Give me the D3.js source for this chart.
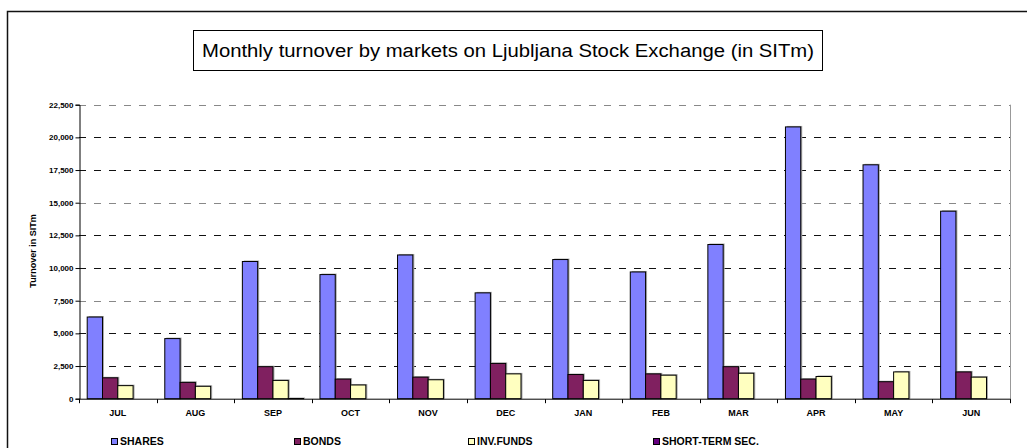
<!DOCTYPE html>
<html>
<head>
<meta charset="utf-8">
<script src="https://cdnjs.cloudflare.com/ajax/libs/d3/7.8.5/d3.min.js"></script>
<style>
  body { margin: 0; background: #fff; }
  svg { display: block; font-family: "Liberation Sans", Arial, sans-serif; }
</style>
</head>
<body>
<div id="chart"></div>
<script>
/* chart data (SIT millions) */
var months = ["JUL", "AUG", "SEP", "OCT", "NOV", "DEC", "JAN", "FEB", "MAR", "APR", "MAY", "JUN"];
var seriesNames = ["SHARES", "BONDS", "INV.FUNDS", "SHORT-TERM SEC."];
var shares = [6250, 4600, 10500, 9500, 11000, 8100, 10650, 9700, 11800, 20800, 17900, 14350];
var bonds = [1600, 1250, 2450, 1500, 1650, 2700, 1850, 1900, 2450, 1500, 1300, 2050];
var invFunds = [1000, 950, 1400, 1050, 1450, 1900, 1400, 1800, 1950, 1700, 2050, 1650];
var shortTerm = [0, 0, 15, 0, 0, 0, 0, 0, 0, 0, 0, 0];
var yTicks = [0, 2500, 5000, 7500, 10000, 12500, 15000, 17500, 20000, 22500];
var colors = ["#8080FF", "#802060", "#FFFFC0", "#660080"];

var allSeries = [shares, bonds, invFunds, shortTerm];
var W = 1027, H = 448;

var svg = d3.select("#chart").append("svg")
    .attr("width", W)
    .attr("height", H);

// outer frame (runs off the right and bottom edge)
svg.append("rect")
    .attr("x", 7.5).attr("y", 11.5)
    .attr("width", W + 10).attr("height", H + 10)
    .attr("fill", "none")
    .attr("stroke", "#111")
    .attr("stroke-width", 1.5);

// title box
var title = svg.append("g");
title.append("rect")
    .attr("x", 193.5).attr("y", 30.5)
    .attr("width", 629).attr("height", 40)
    .attr("fill", "#fff")
    .attr("stroke", "#000");
title.append("text")
    .attr("x", 508).attr("y", 57)
    .attr("text-anchor", "middle")
    .attr("font-size", 18)
    .attr("textLength", 612)
    .attr("lengthAdjust", "spacingAndGlyphs")
    .text("Monthly turnover by markets on Ljubljana Stock Exchange (in SITm)");

var margin = {left: 79, right: 1010, top: 104.7, bottom: 398.7};

var x0 = d3.scaleBand()
    .domain(months)
    .range([margin.left, margin.right]);

var x1 = d3.scaleBand()
    .domain(d3.range(seriesNames.length))
    .range([8.2, x0.bandwidth() - 8.2]);

var y = d3.scaleLinear()
    .domain([0, 22500])
    .range([margin.bottom, margin.top]);

// grid lines
svg.append("g").selectAll("line")
    .data(yTicks.slice(1))
    .enter().append("line")
    .attr("x1", margin.left).attr("x2", margin.right)
    .attr("y1", function(d) { return Math.round(y(d)) + 0.5; })
    .attr("y2", function(d) { return Math.round(y(d)) + 0.5; })
    .attr("stroke", function(d) { return d % 7500 === 0 ? "#888" : "#111"; })
    .attr("stroke-dasharray", "7,8");

// right border of plot area
svg.append("line")
    .attr("x1", margin.right + 0.5).attr("x2", margin.right + 0.5)
    .attr("y1", margin.top).attr("y2", margin.bottom)
    .attr("stroke", "#999");

// bars
var groups = svg.append("g").selectAll("g")
    .data(months)
    .enter().append("g")
    .attr("transform", function(d) { return "translate(" + x0(d) + ",0)"; });

groups.each(function(m, i) {
    var g = d3.select(this);
    allSeries.forEach(function(vals, s) {
        var v = vals[i];
        if (v <= 0) return;
        var bx = x1(s), by = y(v), bh = y(0) - y(v);
        // soft shadow
        g.append("rect")
            .attr("x", bx + 1.5).attr("y", by - 1)
            .attr("width", x1.bandwidth()).attr("height", bh + 1)
            .attr("fill", "#aaa");
        g.append("rect")
            .attr("x", bx).attr("y", by)
            .attr("width", x1.bandwidth()).attr("height", bh)
            .attr("fill", colors[s])
            .attr("stroke", "#000")
            .attr("stroke-width", 1);
    });
});

// y axis
var yAxis = d3.axisLeft(y)
    .tickValues(yTicks)
    .tickSize(4)
    .tickPadding(2)
    .tickFormat(d3.format(","));

var gy = svg.append("g")
    .attr("transform", "translate(" + (margin.left + 0.5) + ",0)")
    .call(yAxis);
gy.selectAll("text")
    .attr("font-size", 8)
    .attr("font-weight", "bold")
    .attr("font-family", "Liberation Sans, Arial, sans-serif");

// x axis: ticks on band boundaries
var gx = svg.append("g")
    .attr("transform", "translate(0," + (margin.bottom + 0.5) + ")");
gx.append("line")
    .attr("x1", margin.left).attr("x2", margin.right + 1)
    .attr("stroke", "#000");
gx.selectAll(".tk")
    .data(months.concat(["end"]))
    .enter().append("line")
    .attr("class", "tk")
    .attr("x1", function(d, i) { return Math.round(margin.left + i * x0.step()) + 0.5; })
    .attr("x2", function(d, i) { return Math.round(margin.left + i * x0.step()) + 0.5; })
    .attr("y1", 0).attr("y2", 4)
    .attr("stroke", "#000");
gx.selectAll(".lbl")
    .data(months)
    .enter().append("text")
    .attr("class", "lbl")
    .attr("x", function(d) { return x0(d) + x0.bandwidth() / 2; })
    .attr("y", 17)
    .attr("text-anchor", "middle")
    .attr("font-size", 9)
    .attr("font-weight", "bold")
    .text(function(d) { return d; });

// y axis title
svg.append("text")
    .attr("transform", "translate(36,251) rotate(-90)")
    .attr("text-anchor", "middle")
    .attr("font-size", 9)
    .attr("font-weight", "bold")
    .text("Turnover in SITm");

// legend
var legendX = [111, 294, 468, 653];
var legend = svg.append("g").selectAll("g")
    .data(seriesNames)
    .enter().append("g")
    .attr("transform", function(d, i) { return "translate(" + legendX[i] + ",438)"; });
legend.append("rect")
    .attr("x", 0.5).attr("y", 0.5)
    .attr("width", 6).attr("height", 6)
    .attr("fill", function(d, i) { return colors[i]; })
    .attr("stroke", "#000");
legend.append("text")
    .attr("x", 9).attr("y", 7)
    .attr("font-size", 10.5)
    .attr("font-weight", "bold")
    .text(function(d) { return d; });
</script>
</body>
</html>
